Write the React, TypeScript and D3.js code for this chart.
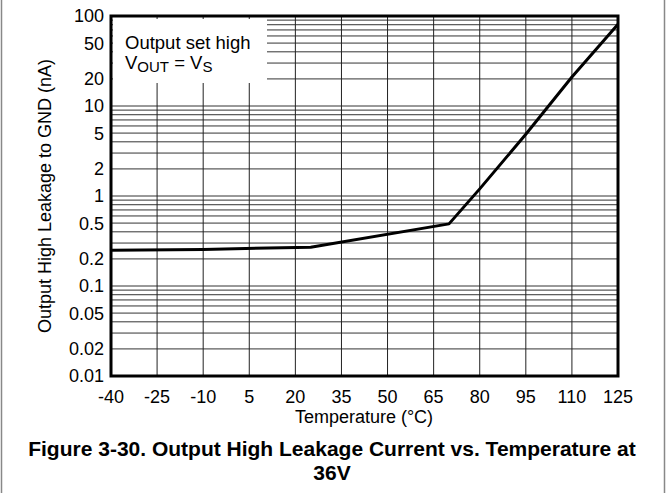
import React from "react";
import * as d3 from "d3";

const temps = [-40, -10, 25, 70, 80, 95, 110, 125];
const leakage = [0.25, 0.255, 0.27, 0.49, 1.2, 4.85, 21, 81];
const xTicks = [-40, -25, -10, 5, 20, 35, 50, 65, 80, 95, 110, 125];
const yTicks = [0.01, 0.02, 0.05, 0.1, 0.2, 0.5, 1, 2, 5, 10, 20, 50, 100];
const yTickLabels = ["0.01", "0.02", "0.05", "0.1", "0.2", "0.5", "1", "2", "5", "10", "20", "50", "100"];

const W = 666, H = 493;
const L = 111, R = 618, T = 16, B = 376;
const FONT = "'Liberation Sans', Arial, Helvetica, sans-serif";

export default function App() {
  const x = d3.scaleLinear().domain([-40, 125]).range([L, R]);
  const y = d3.scaleLog().domain([0.01, 100]).range([B, T]);

  const minor: number[] = [];
  for (let e = -2; e < 2; e++) {
    for (let m = 1; m <= 9; m++) minor.push(m * Math.pow(10, e));
  }
  minor.push(100);

  const line = d3
    .line<number>()
    .x((_, i) => x(temps[i]))
    .y((d) => y(d));

  return (
    <svg width={W} height={H} style={{ position: "absolute", left: 0, top: 0, background: "#fff" }} fontFamily={FONT}>
      <rect x={0} y={0} width={W} height={H} fill="#fff" />
      <line x1={1.5} x2={1.5} y1={0} y2={H} stroke="#888" strokeWidth={1.5} />
      <line x1={664.5} x2={664.5} y1={0} y2={H} stroke="#888" strokeWidth={1.5} />
      {/* horizontal grid */}
      {minor.map((v, i) => (
        <line key={"h" + i} x1={L} x2={R} y1={y(v)} y2={y(v)} stroke="#333" strokeWidth={1} />
      ))}
      {/* vertical grid */}
      {xTicks.map((t) => (
        <line key={"v" + t} x1={x(t)} x2={x(t)} y1={T} y2={B} stroke="#222" strokeWidth={1} />
      ))}
      {/* legend box */}
      <rect x={113} y={19} width={154} height={64} fill="#fff" />
      <text x={125} y={49} fontSize={18.5} fill="#000">Output set high</text>
      <text x={125} y={69} fontSize={18.5} fill="#000">
        V<tspan fontSize={15} dy={3}>OUT</tspan>
        <tspan dy={-3}> = V</tspan>
        <tspan fontSize={15} dy={3}>S</tspan>
      </text>
      {/* curve */}
      <path d={line(leakage) || ""} fill="none" stroke="#000" strokeWidth={3} strokeLinejoin="round" />
      {/* frame */}
      <rect x={L} y={T} width={R - L} height={B - T} fill="none" stroke="#000" strokeWidth={3} />
      {/* y tick labels */}
      {yTicks.map((v, i) => (
        <text key={"yl" + i} x={104} y={y(v)} dy="0.36em" textAnchor="end" fontSize={18} fill="#000">
          {yTickLabels[i]}
        </text>
      ))}
      {/* x tick labels */}
      {xTicks.map((t) => (
        <text key={"xl" + t} x={x(t)} y={403} textAnchor="middle" fontSize={18} fill="#000">
          {t}
        </text>
      ))}
      <text x={364} y={423} textAnchor="middle" fontSize={18} fill="#000">Temperature (°C)</text>
      <text
        transform={`translate(51,${(T + B) / 2}) rotate(-90)`}
        textAnchor="middle"
        fontSize={18}
        fill="#000"
      >
        Output High Leakage to GND (nA)
      </text>
      <text x={332} y={456} textAnchor="middle" fontSize={21} fontWeight="bold" fill="#000">
        Figure 3-30. Output High Leakage Current vs. Temperature at
      </text>
      <text x={332} y={480} textAnchor="middle" fontSize={21} fontWeight="bold" fill="#000">
        36V
      </text>
    </svg>
  );
}
